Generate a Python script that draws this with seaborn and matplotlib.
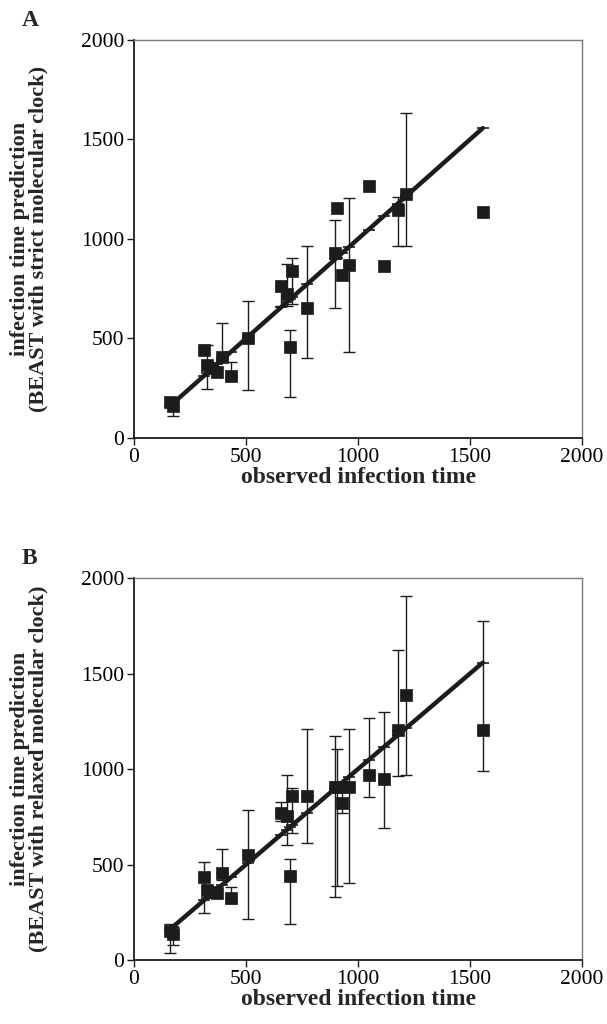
import numpy as np
import pandas as pd
import matplotlib
matplotlib.use("Agg")
import matplotlib.pyplot as plt
import seaborn as sns

nan = np.nan

# ---- data ----
observed = [160, 175, 312, 327, 347, 372, 394, 432, 510, 656, 682, 697, 707,
            772, 897, 905, 930, 958, 1047, 1115, 1178, 1215, 1557]

strict_pred = [180, 160, 442, 367, 350, 333, 409, 313, 504, 762, 724, 456, 841,
               652, 928, 1154, 820, 869, 1265, 866, 1144, 1225, 1137]
strict_lo = [nan, 112, nan, 248, nan, nan, 395, 300, 241, 665, 665, 208, 673,
             400, 655, nan, nan, 431, nan, nan, 966, 966, nan]
strict_hi = [nan, 190, nan, 466, nan, nan, 576, 380, 690, nan, 873, 540, 903,
             964, 1097, nan, nan, 1207, nan, nan, 1209, 1632, nan]

relaxed_pred = [150, 138, 434, 366, 358, 349, 454, 325, 548, 770, 755, 438, 857,
                859, 907, 905, 824, 907, 969, 946, 1204, 1387, 1204]
relaxed_lo = [38, 79, 247, nan, nan, nan, 420, 300, 213, 730, 602, 189, 663,
              611, 332, 387, 768, 404, 855, 690, 965, 969, 991]
relaxed_hi = [187, 175, 515, nan, nan, nan, 579, 380, 787, 829, 967, 527, 902,
              1209, 1171, 1103, 880, 1209, 1268, 1300, 1623, 1906, 1777]

panel_letters = ["A", "B"]
ylabels = ["infection time prediction\n(BEAST with strict molecular clock)",
           "infection time prediction\n(BEAST with relaxed molecular clock)"]
xlabel = "observed infection time"
ticks = [0, 500, 1000, 1500, 2000]

# ---- styling ----
sns.set_theme(style="white")
plt.rcParams["font.family"] = ["Liberation Serif", "DejaVu Serif"]

dark = "#1c1c1c"

fig = plt.figure(figsize=(6.07, 10.24), dpi=100)
axA = fig.add_axes([0.2208, 0.5723, 0.7380, 0.3887])
axB = fig.add_axes([0.2208, 0.0625, 0.7380, 0.3730])

panels = [
    (axA, strict_pred, strict_lo, strict_hi),
    (axB, relaxed_pred, relaxed_lo, relaxed_hi),
]

for i, (ax, pred, lo, hi) in enumerate(panels):
    obs = np.array(observed, float)
    p = np.array(pred, float)
    l = np.array(lo, float)
    h = np.array(hi, float)

    # error bars (lower and upper separately so half-bars can be drawn)
    m_lo = ~np.isnan(l)
    ax.errorbar(obs[m_lo], p[m_lo], yerr=[p[m_lo] - l[m_lo], np.zeros(m_lo.sum())],
                fmt="none", ecolor=dark, elinewidth=1.0, capsize=4.5, capthick=1.0,
                zorder=2)
    m_hi = ~np.isnan(h)
    ax.errorbar(obs[m_hi], p[m_hi], yerr=[np.zeros(m_hi.sum()), h[m_hi] - p[m_hi]],
                fmt="none", ecolor=dark, elinewidth=1.0, capsize=4.5, capthick=1.0,
                zorder=2)

    # identity line through the observed values
    line_df = pd.DataFrame({"x": obs, "y": obs})
    sns.lineplot(data=line_df, x="x", y="y", ax=ax, color=dark, linewidth=3.2,
                 marker="_", markersize=9, markeredgewidth=1.2,
                 markeredgecolor=dark, zorder=3, errorbar=None)

    # data points
    pts = pd.DataFrame({"obs": obs, "pred": p})
    sns.scatterplot(data=pts, x="obs", y="pred", ax=ax, marker="s", s=78,
                    color=dark, edgecolor=dark, linewidth=0.5, zorder=4)

    ax.set_xlim(0, 2000)
    ax.set_ylim(0, 2000)
    ax.set_xticks(ticks)
    ax.set_yticks(ticks)
    ax.set_xticklabels([str(t) for t in ticks])
    ax.set_yticklabels([str(t) for t in ticks])
    ax.tick_params(axis="both", which="major", direction="out", length=5,
                   width=1.0, color=dark, labelsize=15.5, labelcolor="black",
                   bottom=True, left=True, pad=2)
    for side in ["left", "bottom"]:
        ax.spines[side].set_color(dark)
        ax.spines[side].set_linewidth(1.3)
    for side in ["top", "right"]:
        ax.spines[side].set_color("#7a7a7a")
        ax.spines[side].set_linewidth(1.0)
    ax.grid(False)

    ax.set_xlabel(xlabel, fontsize=17, fontweight="bold", labelpad=0)
    ax.set_ylabel(ylabels[i], fontsize=16, fontweight="bold",
                  linespacing=0.9)
    ax.yaxis.set_label_coords(-0.19, 0.5)

    bbox = ax.get_position()
    fig.text(0.036, bbox.y1 + 0.019, panel_letters[i], fontsize=17,
             fontweight="bold", ha="left", va="center")

fig.savefig("out.png", dpi=100)
